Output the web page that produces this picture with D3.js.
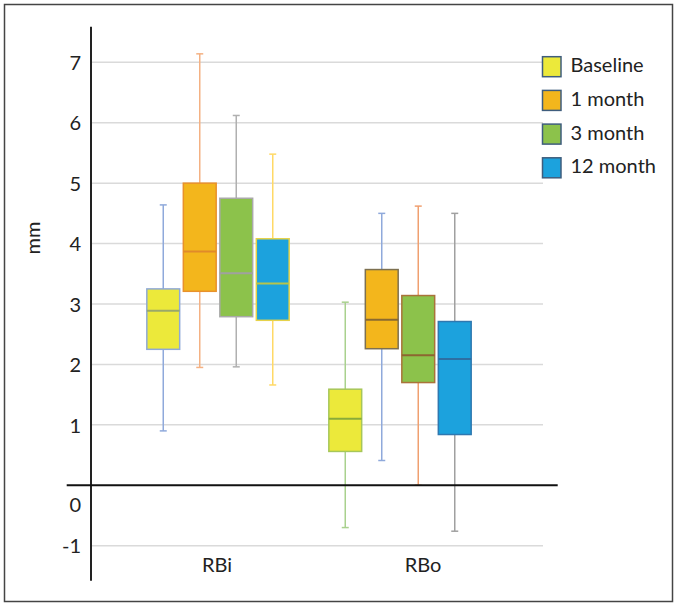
<!DOCTYPE html>
<html>
<head>
<meta charset="utf-8">
<script src="https://cdn.jsdelivr.net/npm/d3@7"></script>
<style>
  body { margin: 0; background: #fff; }
  svg text { font-family: Lato, "Open Sans", sans-serif; fill: #222; }
</style>
</head>
<body>
<div id="chart"></div>
<script>
// Categories and series
const categories = ['RBi', 'RBo'];
const seriesNames = ['Baseline', '1 month', '3 month', '12 month'];

// [min, q1, median, q3, max] per category
const baselineStats = [[0.90, 2.25, 2.89, 3.25, 4.64], [-0.70, 0.56, 1.10, 1.59, 3.03]];
const month1Stats   = [[1.95, 3.21, 3.87, 5.00, 7.14], [0.41, 2.26, 2.74, 3.57, 4.50]];
const month3Stats   = [[1.96, 2.79, 3.51, 4.75, 6.12], [0.00, 1.70, 2.15, 3.14, 4.62]];
const month12Stats  = [[1.66, 2.73, 3.34, 4.08, 5.48], [-0.76, 0.84, 2.09, 2.71, 4.50]];

const yTicks = [-1, 0, 1, 2, 3, 4, 5, 6, 7];

// colours
const fillColors = ['#ece93a', '#f3b61c', '#8cc24b', '#1ca2dd'];
const strokeColors = {
  RBi: ['#8fa9d6', '#e8912c', '#a9a9a9', '#e6d24a'],
  RBo: ['#a6c65a', '#7d7050', '#a9733a', '#2f78b0']
};
const medianColors = {
  RBi: ['#9aa86a', '#e08a2a', '#a0a0a0', '#b6c44a'],
  RBo: ['#8aab3a', '#8a6a30', '#8d6530', '#2d6fa3']
};
const whiskerColors = {
  RBi: ['#8fa9db', '#f4b183', '#b0b0b0', '#ffd966'],
  RBo: ['#a9d18e', '#8fa9db', '#f0a070', '#a0a0a0']
};

const allStats = [baselineStats, month1Stats, month3Stats, month12Stats];
const boxes = [];
categories.forEach((cat, ci) => {
  seriesNames.forEach((s, si) => {
    const v = allStats[si][ci];
    boxes.push({ cat, series: s, si, min: v[0], q1: v[1], med: v[2], q3: v[3], max: v[4] });
  });
});

const W = 677, H = 607;
const svg = d3.select('#chart').append('svg')
  .attr('width', W)
  .attr('height', H);

// outer frame
svg.append('rect')
  .attr('x', 4.5).attr('y', 4.5)
  .attr('width', 668).attr('height', 597)
  .attr('fill', 'none')
  .attr('stroke', '#444')
  .attr('stroke-width', 1.5);

const plotLeft = 91, plotRight = 543;

const y = d3.scaleLinear().domain([-1, 7]).range([545.7, 62.3]);
const xGroup = d3.scalePoint().domain(categories).range([218, 400]);
const xLabel = d3.scalePoint().domain(categories).range([217, 423]);
const xSeries = d3.scaleBand().domain(seriesNames).range([-73, 73])
  .paddingInner(0.1).paddingOuter(0.05);

// gridlines
svg.append('g')
  .selectAll('line')
  .data(yTicks.filter(d => d !== 0))
  .enter()
  .append('line')
  .attr('x1', plotLeft).attr('x2', plotRight)
  .attr('y1', d => y(d)).attr('y2', d => y(d))
  .attr('stroke', '#dadada')
  .attr('stroke-width', 1.5);

// y tick labels
const yAxis = svg.append('g')
  .attr('transform', `translate(${plotLeft},0)`)
  .call(d3.axisLeft(y).tickValues(yTicks).tickSize(0).tickPadding(10).tickFormat(d => String(d)));
yAxis.select('.domain').remove();
yAxis.selectAll('text')
  .style('font-size', '20px')
  .style('font-family', 'Lato, "Open Sans", sans-serif')
  .attr('fill', '#222')
  .attr('dy', d => d === 0 ? '1.3em' : '0.36em');

// boxes
const g = svg.append('g');
const bw = xSeries.bandwidth();
const cx = d => xGroup(d.cat) + xSeries(d.series) + bw / 2;
const capW = 7;

const item = g.selectAll('g.box')
  .data(boxes)
  .enter()
  .append('g')
  .attr('class', 'box');

item.append('line')
  .attr('x1', cx).attr('x2', cx)
  .attr('y1', d => y(d.max)).attr('y2', d => y(d.min))
  .attr('stroke', d => whiskerColors[d.cat][d.si])
  .attr('stroke-width', 1.5);

item.append('line')
  .attr('x1', d => cx(d) - capW / 2).attr('x2', d => cx(d) + capW / 2)
  .attr('y1', d => y(d.max)).attr('y2', d => y(d.max))
  .attr('stroke', d => whiskerColors[d.cat][d.si])
  .attr('stroke-width', 1.5);

item.append('line')
  .attr('x1', d => cx(d) - capW / 2).attr('x2', d => cx(d) + capW / 2)
  .attr('y1', d => y(d.min)).attr('y2', d => y(d.min))
  .attr('stroke', d => whiskerColors[d.cat][d.si])
  .attr('stroke-width', 1.5);

item.append('rect')
  .attr('x', d => cx(d) - bw / 2)
  .attr('y', d => y(d.q3))
  .attr('width', bw)
  .attr('height', d => y(d.q1) - y(d.q3))
  .attr('fill', d => fillColors[d.si])
  .attr('stroke', d => strokeColors[d.cat][d.si])
  .attr('stroke-width', 1.5);

item.append('line')
  .attr('x1', d => cx(d) - bw / 2).attr('x2', d => cx(d) + bw / 2)
  .attr('y1', d => y(d.med)).attr('y2', d => y(d.med))
  .attr('stroke', d => medianColors[d.cat][d.si])
  .attr('stroke-width', 2);

// axis lines
svg.append('line')
  .attr('x1', plotLeft).attr('x2', plotLeft)
  .attr('y1', 26.7).attr('y2', 580.7)
  .attr('stroke', '#222')
  .attr('stroke-width', 2);

svg.append('line')
  .attr('x1', 66.7).attr('x2', 557.7)
  .attr('y1', y(0)).attr('y2', y(0))
  .attr('stroke', '#111')
  .attr('stroke-width', 2);

// category labels
svg.append('g')
  .selectAll('text')
  .data(categories)
  .enter()
  .append('text')
  .attr('x', d => xLabel(d))
  .attr('y', 572)
  .attr('text-anchor', 'middle')
  .style('font-size', '20px')
  .text(d => d);

// y label
svg.append('text')
  .attr('transform', 'translate(40,238) rotate(-90)')
  .attr('text-anchor', 'middle')
  .style('font-size', '20px')
  .text('mm');

// legend
const legend = svg.append('g')
  .attr('transform', 'translate(542.5,56.7)');

seriesNames.forEach((s, i) => {
  const row = legend.append('g')
    .attr('transform', `translate(0, ${i * 33.7})`);
  row.append('rect')
    .attr('width', 18.5).attr('height', 20)
    .attr('fill', fillColors[i])
    .attr('stroke', '#3f5d7d')
    .attr('stroke-width', 1.5);
  row.append('text')
    .attr('x', 28)
    .attr('y', 15.5)
    .style('font-size', '20px')
    .text(s);
});
</script>
</body>
</html>
